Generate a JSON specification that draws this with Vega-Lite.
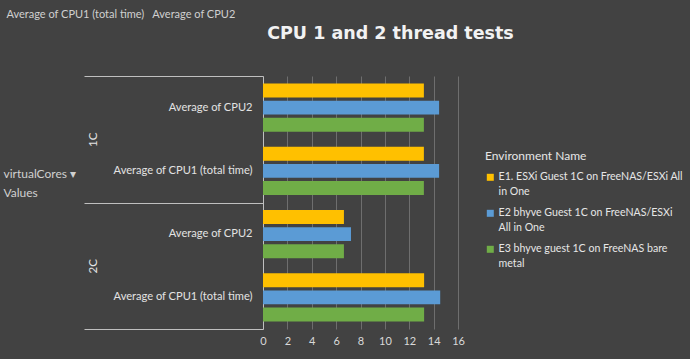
{
  "$schema": "https://vega.github.io/schema/vega-lite/v6.json",
  "width": 195,
  "height": 253,
  "autosize": {"type": "none"},
  "padding": {"left": 263, "top": 76, "right": 232, "bottom": 30},
  "background": "#424242",
  "title": {
    "text": "CPU 1 and 2 thread tests",
    "font": "DejaVu Sans",
    "fontWeight": "bold",
    "fontSize": 17.5,
    "color": "#f2f2f2",
    "anchor": "middle",
    "dx": 30,
    "offset": -48,
    "baseline": "alphabetic"
  },
  "config": {
    "view": {"stroke": null},
    "font": "Lato",
    "axis": {"labelFont": "Lato", "titleFont": "Lato", "titleFontWeight": "normal"},
    "legend": {"labelFont": "Lato", "titleFont": "Lato"},
    "style": {"guide-label": {"lineHeight": 15}}
  },
  "data": {
    "values": [
      {"vc": "1C", "measure": "Average of CPU2", "group": "1C|Average of CPU2", "env": "E1. ESXi Guest 1C on FreeNAS/ESXi All in One", "value": 13.2},
      {"vc": "1C", "measure": "Average of CPU2", "group": "1C|Average of CPU2", "env": "E2 bhyve Guest 1C on FreeNAS/ESXi All in One", "value": 14.45},
      {"vc": "1C", "measure": "Average of CPU2", "group": "1C|Average of CPU2", "env": "E3 bhyve guest 1C on FreeNAS bare metal", "value": 13.2},
      {"vc": "1C", "measure": "Average of CPU1 (total time)", "group": "1C|Average of CPU1 (total time)", "env": "E1. ESXi Guest 1C on FreeNAS/ESXi All in One", "value": 13.2},
      {"vc": "1C", "measure": "Average of CPU1 (total time)", "group": "1C|Average of CPU1 (total time)", "env": "E2 bhyve Guest 1C on FreeNAS/ESXi All in One", "value": 14.45},
      {"vc": "1C", "measure": "Average of CPU1 (total time)", "group": "1C|Average of CPU1 (total time)", "env": "E3 bhyve guest 1C on FreeNAS bare metal", "value": 13.2},
      {"vc": "2C", "measure": "Average of CPU2", "group": "2C|Average of CPU2", "env": "E1. ESXi Guest 1C on FreeNAS/ESXi All in One", "value": 6.64},
      {"vc": "2C", "measure": "Average of CPU2", "group": "2C|Average of CPU2", "env": "E2 bhyve Guest 1C on FreeNAS/ESXi All in One", "value": 7.22},
      {"vc": "2C", "measure": "Average of CPU2", "group": "2C|Average of CPU2", "env": "E3 bhyve guest 1C on FreeNAS bare metal", "value": 6.64},
      {"vc": "2C", "measure": "Average of CPU1 (total time)", "group": "2C|Average of CPU1 (total time)", "env": "E1. ESXi Guest 1C on FreeNAS/ESXi All in One", "value": 13.22},
      {"vc": "2C", "measure": "Average of CPU1 (total time)", "group": "2C|Average of CPU1 (total time)", "env": "E2 bhyve Guest 1C on FreeNAS/ESXi All in One", "value": 14.54},
      {"vc": "2C", "measure": "Average of CPU1 (total time)", "group": "2C|Average of CPU1 (total time)", "env": "E3 bhyve guest 1C on FreeNAS bare metal", "value": 13.22}
    ]
  },
  "layer": [
    {
      "mark": {"type": "bar"},
      "encoding": {
        "x": {
          "field": "value",
          "type": "quantitative",
          "scale": {"domain": [0, 16], "nice": false},
          "axis": {
            "values": [0, 2, 4, 6, 8, 10, 12, 14, 16],
            "tickCount": 20,
            "grid": true,
            "gridColor": "#6e6e6e",
            "domain": false,
            "ticks": false,
            "labelOverlap": false,
            "labelFlush": false,
            "labelPadding": 6,
            "labelFontSize": 11,
            "labelColor": "#d9d9d9",
            "title": "Average of CPU1 (total time)\u00a0\u00a0\u00a0Average of CPU2",
            "titleX": -257,
            "titleY": -315,
            "titleAlign": "left",
            "titleBaseline": "middle",
            "titleFontSize": 11,
            "titleColor": "#d0d0d0"
          }
        },
        "y": {
          "field": "group",
          "type": "nominal",
          "scale": {
            "domain": ["1C|Average of CPU2", "1C|Average of CPU1 (total time)", "2C|Average of CPU2", "2C|Average of CPU1 (total time)"],
            "paddingInner": 0.24,
            "paddingOuter": 0.12
          },
          "axis": {
            "orient": "left",
            "title": "Values",
            "domain": false,
            "ticks": false,
            "grid": false,
            "labelExpr": "split(datum.label, '|')[1]",
            "labelPadding": 11,
            "labelFontSize": 11.1,
            "labelColor": "#e3e3e3",
            "labelLimit": 250,
            "titleAngle": 0,
            "titleX": -260,
            "titleY": 116,
            "titleAlign": "left",
            "titleBaseline": "middle",
            "titleFontSize": 12,
            "titleColor": "#d0d0d0"
          }
        },
        "yOffset": {
          "field": "env",
          "type": "nominal",
          "scale": {"paddingInner": 0.18}
        },
        "color": {
          "field": "env",
          "type": "nominal",
          "scale": {"range": ["#FFC000", "#5B9BD5", "#70AD47"]},
          "legend": {
            "orient": "none",
            "legendX": 222,
            "legendY": 75,
            "padding": 0,
            "title": "Environment Name",
            "titleFontSize": 12,
            "titleFontWeight": "normal",
            "titleColor": "#e6e6e6",
            "titlePadding": 9,
            "symbolType": "square",
            "symbolSize": 49,
            "symbolStrokeWidth": 0,
            "labelOffset": 3,
            "labelFontSize": 10.6,
            "labelColor": "#e6e6e6",
            "labelLimit": 260,
            "rowPadding": 10,
            "labelExpr": "datum.label == 'E1. ESXi Guest 1C on FreeNAS/ESXi All in One' ? ['E1. ESXi Guest 1C on FreeNAS/ESXi All', 'in One'] : datum.label == 'E2 bhyve Guest 1C on FreeNAS/ESXi All in One' ? ['E2 bhyve Guest 1C on FreeNAS/ESXi', 'All in One'] : ['E3 bhyve guest 1C on FreeNAS bare', 'metal']"
          }
        }
      }
    },
    {
      "mark": {"type": "bar", "opacity": 0},
      "encoding": {
        "y": {
          "field": "vc",
          "type": "nominal",
          "scale": {"domain": ["1C", "2C"], "padding": 0},
          "axis": {
            "orient": "left",
            "title": "virtualCores ▾",
            "tickBand": "extent",
            "tickSize": 179,
            "tickColor": "#bfbfbf",
            "domainColor": "#bfbfbf",
            "grid": false,
            "labelAngle": -90,
            "labelAlign": "center",
            "labelBaseline": "middle",
            "labelPadding": -9,
            "labelFontSize": 11.5,
            "labelColor": "#e3e3e3",
            "titleAngle": 0,
            "titleX": -260,
            "titleY": 97,
            "titleAlign": "left",
            "titleBaseline": "middle",
            "titleFontSize": 12,
            "titleColor": "#d0d0d0"
          }
        }
      }
    }
  ],
  "resolve": {"scale": {"y": "independent"}, "axis": {"y": "independent"}}
}
